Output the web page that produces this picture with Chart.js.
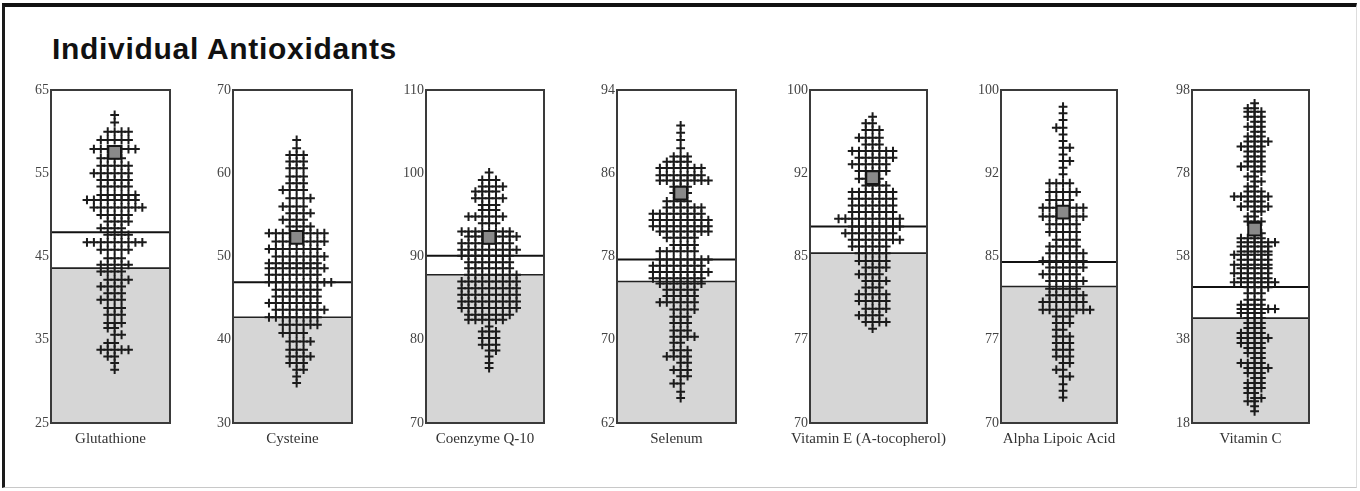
<!DOCTYPE html>
<html><head><meta charset="utf-8">
<script src="https://cdn.jsdelivr.net/npm/chart.js@4.4.1/dist/chart.umd.min.js"></script>
<style>
html,body{margin:0;padding:0;background:#fff;}
body{width:1360px;height:491px;position:relative;overflow:hidden;}
#frame{position:absolute;left:2px;top:3px;width:1355px;height:485px;border-top:4px solid #111;border-left:3px solid #1a1a1a;border-bottom:1px solid #c8c8c8;border-right:1px solid #ddd;box-sizing:border-box;}
#title{position:absolute;left:52px;top:34px;font:bold 30px "Liberation Sans",Arial,sans-serif;line-height:30px;letter-spacing:0.7px;color:#111;white-space:nowrap;}
canvas.panel{position:absolute;top:78px;}
</style></head><body>
<div id="frame"></div>
<div id="title">Individual Antioxidants</div>
<script>
// ---------- DATA ----------
const categories = ["Glutathione","Cysteine","Coenzyme Q-10","Selenum","Vitamin E (A-tocopherol)","Alpha Lipoic Acid","Vitamin C"];

const axisMin = [25, 30, 70, 62, 70, 70, 18];
const axisMax = [65, 70, 110, 94, 100, 100, 98];

const tickValues = [
  [25,35,45,55,65],
  [30,40,50,60,70],
  [70,80,90,100,110],
  [62,70,78,86,94],
  [70,77.5,85,92.5,100],
  [70,77.5,85,92.5,100],
  [18,38,58,78,98]
];
const tickLabels = [
  ["25","35","45","55","65"],
  ["30","40","50","60","70"],
  ["70","80","90","100","110"],
  ["62","70","78","86","94"],
  ["70","77","85","92","100"],
  ["70","77","85","92","100"],
  ["18","38","58","78","98"]
];

const patientValues = [57.5, 52.3, 92.3, 84.1, 92.1, 89.0, 64.6];
const upperLimits   = [47.9, 46.9, 90.1, 77.7, 87.7, 84.5, 50.7];
const lowerLimits   = [43.6, 42.7, 87.8, 75.6, 85.3, 82.3, 43.2];

// population dot plot: value of each row of crosses and how many crosses share it
const glutathioneLevels = [62.0,61.1,60.0,59.0,57.9,56.8,55.9,55.0,54.2,53.4,52.4,51.8,50.9,50.0,49.2,48.4,47.6,46.7,45.8,44.8,44.0,43.2,42.2,41.4,40.6,39.8,38.8,38.0,37.0,36.4,35.6,34.6,33.8,33.0,32.2,31.4];
const glutathioneCounts = [1,1,4,5,7,4,5,6,5,5,6,8,8,5,4,4,4,9,5,3,5,4,4,4,3,4,3,3,3,2,2,2,5,2,1,1];

const cysteineLevels = [64.0,63.0,62.2,61.4,60.6,59.6,58.8,58.0,57.0,56.0,55.2,54.4,53.6,52.8,51.8,50.9,50.0,49.2,48.6,47.8,46.9,46.0,45.2,44.4,43.6,42.7,41.8,40.8,39.8,38.8,38.0,37.2,36.4,35.6,34.8];
const cysteineCounts = [1,1,3,3,3,3,3,4,4,4,4,4,4,9,8,8,8,8,9,8,10,7,7,8,8,8,6,4,4,3,4,3,2,1,1];

const coenzymeLevels = [100.1,99.2,98.4,97.8,97.0,96.2,95.6,94.8,94.0,93.0,92.4,91.6,90.8,90.1,89.3,88.6,87.8,87.0,86.2,85.4,84.6,83.8,83.0,82.4,81.6,81.0,80.2,79.4,78.7,78.0,77.2,76.6];
const coenzymeCounts = [1,3,4,4,5,3,3,6,3,8,8,8,9,8,7,7,8,9,9,9,9,9,7,6,1,3,3,3,2,1,1,1];

const seleniumLevels = [90.6,89.9,89.2,88.4,87.6,87.1,86.5,85.8,85.3,84.7,84.1,83.3,82.7,82.1,81.5,80.9,80.4,79.8,79.1,78.5,77.7,77.1,76.5,75.9,75.4,74.8,74.2,73.6,72.9,72.2,71.6,70.9,70.3,69.7,69.0,68.4,67.8,67.1,66.5,65.8,65.0,64.4];
const seleniumCounts = [1,1,1,1,3,4,7,7,8,3,3,4,6,8,9,9,8,5,4,6,8,8,9,8,7,5,5,6,4,3,3,3,4,2,3,4,2,3,2,2,1,1];

const vitaminELevels = [97.6,97.0,96.4,95.7,95.1,94.5,93.9,93.3,92.7,92.0,91.4,90.8,90.2,89.6,89.0,88.4,87.7,87.1,86.5,85.9,85.3,84.6,84.0,83.4,82.8,82.2,81.6,81.0,80.3,79.7,79.1,78.5];
const vitaminECounts = [1,2,3,4,3,7,6,6,5,4,4,7,7,7,7,10,8,8,8,6,5,5,4,4,4,3,5,5,4,4,4,1];

const lipoicLevels = [98.5,97.9,97.3,96.6,96.0,95.4,94.8,94.2,93.6,93.0,92.4,91.6,90.8,90.1,89.4,88.6,87.9,87.2,86.5,85.9,85.3,84.6,84.0,83.4,82.8,82.1,81.5,80.9,80.2,79.6,79.0,78.4,77.8,77.2,76.6,76.0,75.4,74.8,74.2,73.5,72.9,72.3];
const lipoicCounts = [1,1,1,2,1,1,2,1,2,1,1,4,5,4,7,7,5,5,4,5,6,7,6,6,6,5,6,7,8,3,3,2,3,3,3,3,2,2,2,1,1,1];

const vitaminCLevels = [94.8,93.6,92.8,91.6,90.4,89.2,88.0,86.8,85.6,84.4,83.2,82.0,80.8,79.6,78.4,77.2,76.0,74.8,73.6,72.4,71.2,70.0,68.8,67.6,66.4,64.8,63.6,62.4,61.4,60.4,59.2,58.4,57.2,56.0,55.2,54.0,52.8,51.8,50.6,49.2,47.6,46.4,45.4,44.4,43.2,42.0,40.8,39.6,38.4,37.2,36.0,34.8,33.6,32.4,31.2,30.0,28.8,27.6,26.4,25.2,24.0,23.2,22.0,20.8];
const vitaminCCounts = [1,2,3,3,2,3,2,3,4,4,3,3,3,4,2,2,2,2,3,6,3,5,2,2,3,1,2,4,6,5,5,6,5,6,5,6,5,7,4,3,3,4,6,4,3,3,3,4,5,4,3,3,2,4,4,3,2,3,3,2,2,2,1,1];

const rowLevels = [glutathioneLevels, cysteineLevels, coenzymeLevels, seleniumLevels, vitaminELevels, lipoicLevels, vitaminCLevels];
const rowCounts = [glutathioneCounts, cysteineCounts, coenzymeCounts, seleniumCounts, vitaminECounts, lipoicCounts, vitaminCCounts];

// ---------- LAYOUT ----------
const boxLefts  = [51, 233, 426, 617, 810, 1001, 1192];
const boxWidths = [119, 119, 118, 119, 117, 116, 117];
const SIDE = 40, TOP_PAD = 12, PANEL_H = 380, XAXIS_H = 35;
const X_MIN = -9.2, X_MAX = 8.0;
const SERIF = '"Liberation Serif", "Times New Roman", serif';

const boxPlugin = {
  id: 'box',
  afterDatasetsDraw(chart) {
    const {ctx, chartArea: a} = chart;
    ctx.save();
    ctx.strokeStyle = '#3a3a3a';
    ctx.lineWidth = 2;
    ctx.strokeRect(a.left, a.top, a.right - a.left, a.bottom - a.top);
    ctx.restore();
  },
  afterDraw(chart) {
    const {ctx, chartArea: a} = chart;
    const name = chart.options.plugins.box.label;
    ctx.save();
    ctx.fillStyle = '#333';
    ctx.font = '15px ' + SERIF;
    ctx.textAlign = 'center';
    ctx.textBaseline = 'middle';
    ctx.fillText(name, (a.left + a.right) / 2, a.bottom + 16);
    ctx.restore();
  }
};

function swarm(levels, counts) {
  const pts = [];
  levels.forEach((lv, r) => {
    const n = counts[r];
    const start = (r % 2 === 0) ? -Math.floor((n - 1) / 2) : -Math.floor(n / 2);
    for (let k = 0; k < n; k++) pts.push({x: start + k, y: lv});
  });
  return pts;
}

categories.forEach((name, i) => {
  const cv = document.createElement('canvas');
  cv.className = 'panel';
  const w = SIDE + boxWidths[i] + SIDE;
  cv.width = w; cv.height = PANEL_H;
  cv.style.left = (boxLefts[i] - SIDE) + 'px';
  cv.style.width = w + 'px'; cv.style.height = PANEL_H + 'px';
  document.body.appendChild(cv);

  const vals = tickValues[i], labs = tickLabels[i];
  new Chart(cv, {
    type: 'scatter',
    data: {
      datasets: [
        {type: 'line', data: [{x: X_MIN, y: lowerLimits[i]}, {x: X_MAX, y: lowerLimits[i]}],
         fill: 'start', backgroundColor: '#d6d6d6', borderColor: '#222', borderWidth: 1.6, pointRadius: 0, order: 4},
        {type: 'line', data: [{x: X_MIN, y: upperLimits[i]}, {x: X_MAX, y: upperLimits[i]}],
         fill: false, borderColor: '#111', borderWidth: 2, pointRadius: 0, order: 3},
        {data: swarm(rowLevels[i], rowCounts[i]), pointStyle: 'cross', pointRadius: 4.4,
         pointBorderWidth: 2, pointBorderColor: '#1b1b1b', pointBackgroundColor: '#1b1b1b', order: 2},
        {data: [{x: 0, y: patientValues[i]}], pointStyle: 'rect', pointRadius: 9,
         pointBackgroundColor: '#8a8a8a', pointBorderColor: '#161616', pointBorderWidth: 2, order: 1}
      ]
    },
    options: {
      responsive: false, animation: false, devicePixelRatio: 1, events: [],
      layout: {padding: {top: TOP_PAD, right: SIDE, bottom: 0, left: 0}},
      plugins: {legend: {display: false}, tooltip: {enabled: false}, box: {label: name}},
      scales: {
        x: {type: 'linear', min: X_MIN, max: X_MAX,
            grid: {display: false, drawTicks: false}, border: {display: false},
            ticks: {display: false},
            afterFit(s) { s.height = XAXIS_H; }},
        y: {type: 'linear', min: axisMin[i], max: axisMax[i],
            grid: {display: false, drawTicks: false}, border: {display: false},
            ticks: {color: '#444', padding: 2,
                    font: {family: SERIF, size: 14},
                    callback: (v, idx) => labs[idx]},
            afterBuildTicks(s) { s.ticks = vals.map(v => ({value: v})); },
            afterFit(s) { s.width = SIDE; }}
      }
    },
    plugins: [boxPlugin]
  });
});
</script>
</body></html>
